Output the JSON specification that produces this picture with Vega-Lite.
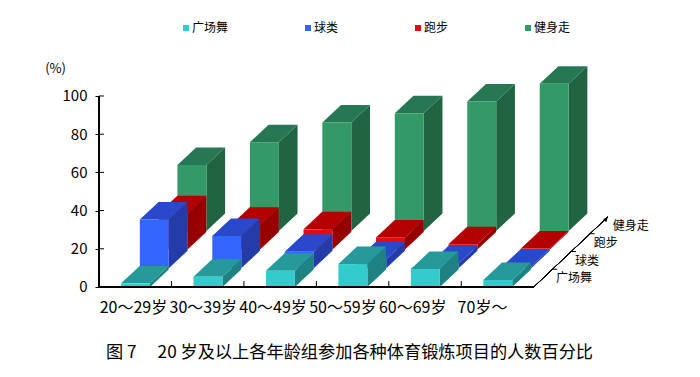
{
"$schema":"https://vega.github.io/schema/vega-lite/v6.json",
"width":601,"height":377,
"autosize":{"type":"none"},
"padding":{"left":99,"top":0,"right":0,"bottom":0},
"background":"white",
"config":{"view":{"stroke":null},"font":"Noto Sans CJK SC","text":{"font":"Noto Sans CJK SC"}},
"title":{"text":"图 7　 20 岁及以上各年龄组参加各种体育锻炼项目的人数百分比","orient":"bottom","anchor":"middle","frame":"group","offset":-33,"dx":-50,"fontSize":17.2,"fontWeight":"normal","font":"Noto Sans CJK SC","color":"black"},
"resolve":{"axis":{"y":"independent"}},
"datasets":{
"main":[
{"age":"20～29岁","sport":"健身走","value":34.5},
{"age":"30～39岁","sport":"健身走","value":46.4},
{"age":"40～49岁","sport":"健身走","value":56.7},
{"age":"50～59岁","sport":"健身走","value":61.6},
{"age":"60～69岁","sport":"健身走","value":67.7},
{"age":"70岁～","sport":"健身走","value":77},
{"age":"20～29岁","sport":"跑步","value":19},
{"age":"30～39岁","sport":"跑步","value":13},
{"age":"40～49岁","sport":"跑步","value":10.6},
{"age":"50～59岁","sport":"跑步","value":6.4},
{"age":"60～69岁","sport":"跑步","value":2.8},
{"age":"70岁～","sport":"跑步","value":0.6},
{"age":"20～29岁","sport":"球类","value":25.6},
{"age":"30～39岁","sport":"球类","value":16.9},
{"age":"40～49岁","sport":"球类","value":8.7},
{"age":"50～59岁","sport":"球类","value":4.8},
{"age":"60～69岁","sport":"球类","value":2.5},
{"age":"70岁～","sport":"球类","value":0.9},
{"age":"20～29岁","sport":"广场舞","value":1.9},
{"age":"30～39岁","sport":"广场舞","value":5.4},
{"age":"40～49岁","sport":"广场舞","value":8.5},
{"age":"50～59岁","sport":"广场舞","value":12},
{"age":"60～69岁","sport":"广场舞","value":9.4},
{"age":"70岁～","sport":"广场舞","value":3.7}
],
"ages":[{"age":"20～29岁","i":0},{"age":"30～39岁","i":1},{"age":"40～49岁","i":2},{"age":"50～59岁","i":3},{"age":"60～69岁","i":4},{"age":"70岁～","i":5}],
"sports":[{"sport":"广场舞","s":0},{"sport":"球类","s":1},{"sport":"跑步","s":2},{"sport":"健身走","s":3}],
"yt":[{"v":0},{"v":20},{"v":40},{"v":60},{"v":80},{"v":100}]
},
"layer":[
{
"data":{"name":"main"},
"transform":[
{"calculate":"indexof(['20～29岁','30～39岁','40～49岁','50～59岁','60～69岁','70岁～'],datum.age)","as":"k"},
{"calculate":"indexof(['广场舞','球类','跑步','健身走'],datum.sport)","as":"s"},
{"calculate":"datum.k+0.304+datum.s*0.2595","as":"x0"},
{"calculate":"datum.s*9.79","as":"y0"},
{"calculate":"datum.y0+datum.value","as":"yt"},
{"calculate":"[{f:'侧',p:[{x:datum.x0+0.4,lo:datum.y0,hi:datum.yt},{x:datum.x0+0.658,lo:datum.y0+9.16,hi:datum.yt+9.16}]},{f:'顶',p:[{x:datum.x0,lo:datum.yt,hi:datum.yt},{x:datum.x0+0.258,lo:datum.yt,hi:datum.yt+9.16},{x:datum.x0+0.4,lo:datum.yt,hi:datum.yt+9.16},{x:datum.x0+0.658,lo:datum.yt+9.16,hi:datum.yt+9.16}]},{f:'',p:[{x:datum.x0,lo:datum.y0,hi:datum.yt},{x:datum.x0+0.4,lo:datum.y0,hi:datum.yt}]}]","as":"faces"},
{"flatten":["faces"]},
{"calculate":"datum.faces.p","as":"pts"},
{"flatten":["pts"]},
{"calculate":"datum.pts.x","as":"px"},
{"calculate":"datum.pts.lo","as":"lo"},
{"calculate":"datum.pts.hi","as":"hi"},
{"calculate":"datum.sport+datum.faces.f","as":"shade"},
{"calculate":"datum.age+datum.shade","as":"id"}
],
"mark":{"type":"area","opacity":1,"interpolate":"linear"},
"encoding":{
"x":{"field":"px","type":"quantitative","scale":{"domain":[0,8.295],"nice":false,"zero":false},"axis":null},
"y":{"field":"lo","type":"quantitative","stack":null,"scale":{"domain":[-47.12,150.26],"nice":false,"zero":false},
"axis":{"values":[0,20,40,60,80,100],"domain":false,"grid":false,"tickSize":4,"tickColor":"black","labelColor":"black","labelFontSize":15,"labelFont":"Noto Sans CJK SC","labelPadding":8,"title":"(%)","titleAngle":0,"titleX":-44,"titleY":68,"titleAlign":"center","titleBaseline":"middle","titleFontSize":13,"titleFontWeight":"normal","titleColor":"black","titleFont":"Noto Sans CJK SC"}},
"y2":{"field":"hi"},
"detail":{"field":"id"},
"color":{"field":"shade","type":"nominal","scale":{
"domain":["广场舞","球类","跑步","健身走","广场舞顶","球类顶","跑步顶","健身走顶","广场舞侧","球类侧","跑步侧","健身走侧"],
"range":["#33CCCC","#3366FF","#E60A0A","#339966","#269A9A","#2A48CC","#B40000","#267855","#1F8282","#233CAA","#960000","#216441"]},
"legend":{"values":["广场舞","球类","跑步","健身走"],"orient":"none","legendX":81,"legendY":22,"direction":"horizontal","columns":4,"title":null,"symbolType":"square","symbolSize":36,"symbolStrokeWidth":0,"symbolOpacity":1,"labelOffset":0,"columnPadding":73,"labelFontSize":12,"labelFont":"Noto Sans CJK SC","labelColor":"black","padding":0}}
}
},
{"data":{"name":"yt"},"mark":{"type":"rule","color":"black"},"encoding":{"x":{"datum":0,"axis":null,"scale":{"domain":[0,8.295],"nice":false,"zero":false}},"x2":{"datum":0.07},"y":{"field":"v","type":"quantitative","scale":{"domain":[-47.12,150.26],"nice":false,"zero":false},"axis":null}}},
{"data":{"name":"ages"},"transform":[{"filter":"datum.i>0"}],"mark":{"type":"rule","color":"black"},"encoding":{"x":{"field":"i","type":"quantitative","scale":{"domain":[0,8.295],"nice":false,"zero":false},"axis":null},"y":{"datum":0,"axis":null,"scale":{"domain":[-47.12,150.26],"nice":false,"zero":false}},"y2":{"datum":3.1}}},
{"data":{"name":"ages"},"mark":{"type":"rule","color":"black","strokeWidth":1.5},"encoding":{"x":{"datum":0,"axis":null,"scale":{"domain":[0,8.295],"nice":false,"zero":false}},"y":{"datum":0,"axis":null,"scale":{"domain":[-47.12,150.26],"nice":false,"zero":false}},"y2":{"datum":100}}},
{"data":{"name":"ages"},"mark":{"type":"rule","color":"black","strokeWidth":1.5},"encoding":{"x":{"datum":0,"axis":null,"scale":{"domain":[0,8.295],"nice":false,"zero":false}},"x2":{"datum":6},"y":{"datum":0,"axis":null,"scale":{"domain":[-47.12,150.26],"nice":false,"zero":false}}}},
{"data":{"name":"ages"},"mark":{"type":"rule","color":"black"},"encoding":{"x":{"datum":6,"axis":null,"scale":{"domain":[0,8.295],"nice":false,"zero":false}},"x2":{"datum":7.021},"y":{"datum":0,"axis":null,"scale":{"domain":[-47.12,150.26],"nice":false,"zero":false}},"y2":{"datum":36.65}}},
{"data":{"name":"ages"},"transform":[{"filter":"datum.i==0"}],"mark":{"type":"point","shape":"triangle-up","filled":true,"color":"black","size":22,"angle":46,"opacity":1},"encoding":{"x":{"datum":7.0,"axis":null,"scale":{"domain":[0,8.295],"nice":false,"zero":false}},"y":{"datum":35.5,"axis":null,"scale":{"domain":[-47.12,150.26],"nice":false,"zero":false}}}},
{"data":{"name":"sports"},"transform":[{"filter":"datum.s<3"},{"calculate":"6+(datum.s+1)*0.2565","as":"tx"},{"calculate":"datum.tx+0.07","as":"tx2"},{"calculate":"(datum.s+1)*9.3","as":"ty"}],"mark":{"type":"rule","color":"black"},"encoding":{"x":{"field":"tx","type":"quantitative","scale":{"domain":[0,8.295],"nice":false,"zero":false},"axis":null},"x2":{"field":"tx2"},"y":{"field":"ty","type":"quantitative","scale":{"domain":[-47.12,150.26],"nice":false,"zero":false},"axis":null}}},
{"data":{"name":"sports"},"transform":[{"calculate":"6.308+datum.s*0.2608","as":"lx"},{"calculate":"4.7+datum.s*9.1","as":"ly"}],"mark":{"type":"text","align":"left","baseline":"middle","fontSize":12,"font":"Noto Sans CJK SC","color":"black"},"encoding":{"x":{"field":"lx","type":"quantitative","scale":{"domain":[0,8.295],"nice":false,"zero":false},"axis":null},"y":{"field":"ly","type":"quantitative","scale":{"domain":[-47.12,150.26],"nice":false,"zero":false},"axis":null},"text":{"field":"sport"}}},
{"data":{"name":"ages"},"transform":[{"calculate":"0.476+datum.i*0.9634","as":"lx"},{"calculate":"-11","as":"ly"}],"mark":{"type":"text","align":"center","baseline":"middle","fontSize":16,"font":"Noto Sans CJK SC","color":"black"},"encoding":{"x":{"field":"lx","type":"quantitative","scale":{"domain":[0,8.295],"nice":false,"zero":false},"axis":null},"y":{"field":"ly","type":"quantitative","scale":{"domain":[-47.12,150.26],"nice":false,"zero":false},"axis":null},"text":{"field":"age"}}}
]
}
